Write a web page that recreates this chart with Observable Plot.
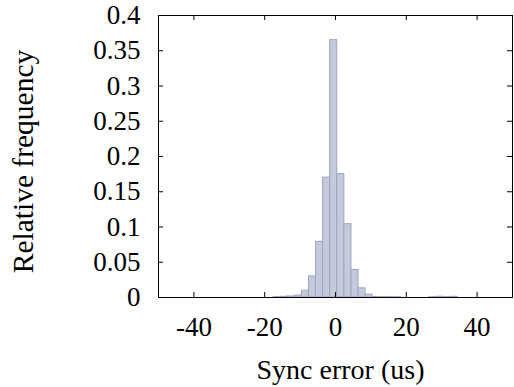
<!DOCTYPE html>
<html>
<head>
<meta charset="utf-8">
<script src="https://cdn.jsdelivr.net/npm/d3@7"></script>
<script src="https://cdn.jsdelivr.net/npm/@observablehq/plot@0.6"></script>
<style>
  html, body { margin: 0; padding: 0; background: #fff; }
  #chart svg, #chart svg text, #chart svg g { font-family: "Liberation Serif", serif !important; font-variant: normal !important; }
</style>
</head>
<body>
<div id="chart"></div>
<script>
// Histogram bins: left edge of each bin (width 2 us) and relative frequency
const binStart = [-17.5, -15.5, -13.5, -11.5, -9.5, -7.5, -5.5, -3.5, -1.5, 0.5, 2.5, 4.5, 6.5, 8.5, 10.5, 12.5, 14.5, 16.5, 26.5, 28.5, 30.5, 32.5];
const binWidth = 2;
const frequency = [0.0005, 0.001, 0.0015, 0.0028, 0.0095, 0.030, 0.079, 0.170, 0.365, 0.175, 0.104, 0.039, 0.013, 0.004, 0.0008, 0.0006, 0.0005, 0.0004, 0.0005, 0.001, 0.0006, 0.001];

const xTicks = [-40, -20, 0, 20, 40];
const yTicks = [0, 0.05, 0.1, 0.15, 0.2, 0.25, 0.3, 0.35, 0.4];
const xLabel = "Sync error (us)";
const yLabel = "Relative frequency";

const bins = binStart.map((s, i) => ({x1: s, x2: s + binWidth, y: frequency[i]}));

const W = 514, H = 387;
const mL = 158, mR = 2, mT = 15, mB = 90;
const fw = W - mL - mR, fh = H - mT - mB;
const tl = 5;
const serif = "Liberation Serif";

const chart = Plot.plot({
  width: W,
  height: H,
  marginLeft: mL,
  marginRight: mR,
  marginTop: mT,
  marginBottom: mB,
  style: {fontFamily: serif, fontSize: "27px", background: "#fff", color: "#000"},
  x: {domain: [-50, 50]},
  y: {domain: [0, 0.4]},
  marks: [
    Plot.rectY(bins, {x1: "x1", x2: "x2", y: "y", fill: "#c4cadc", stroke: "#9da5bd", strokeWidth: 1}),
    Plot.frame({stroke: "#000", strokeWidth: 1}),
    Plot.tickX(xTicks, {x: d => d, insetTop: fh - tl, stroke: "#000"}),
    Plot.tickX(xTicks, {x: d => d, insetBottom: fh - tl, stroke: "#000"}),
    Plot.tickY(yTicks, {y: d => d, insetRight: fw - tl, stroke: "#000"}),
    Plot.tickY(yTicks, {y: d => d, insetLeft: fw - tl, stroke: "#000"}),
    Plot.axisX(xTicks, {anchor: "bottom", tickSize: 0, tickPadding: 19, tickFormat: d => String(d), label: null, fontSize: 27}),
    Plot.axisY(yTicks, {anchor: "left", tickSize: 0, tickPadding: 18, tickFormat: d => String(d), label: null, fontSize: 27}),
    Plot.text([xLabel], {frameAnchor: "bottom", text: d => d, lineAnchor: "bottom", textAnchor: "middle", dy: 81, dx: 5, fontSize: 28}),
    Plot.text([yLabel], {frameAnchor: "left", text: d => d, rotate: -90, lineAnchor: "bottom", textAnchor: "middle", dx: -126, dy: 5, fontSize: 29.5})
  ]
});
document.getElementById("chart").appendChild(chart);
</script>
</body>
</html>
